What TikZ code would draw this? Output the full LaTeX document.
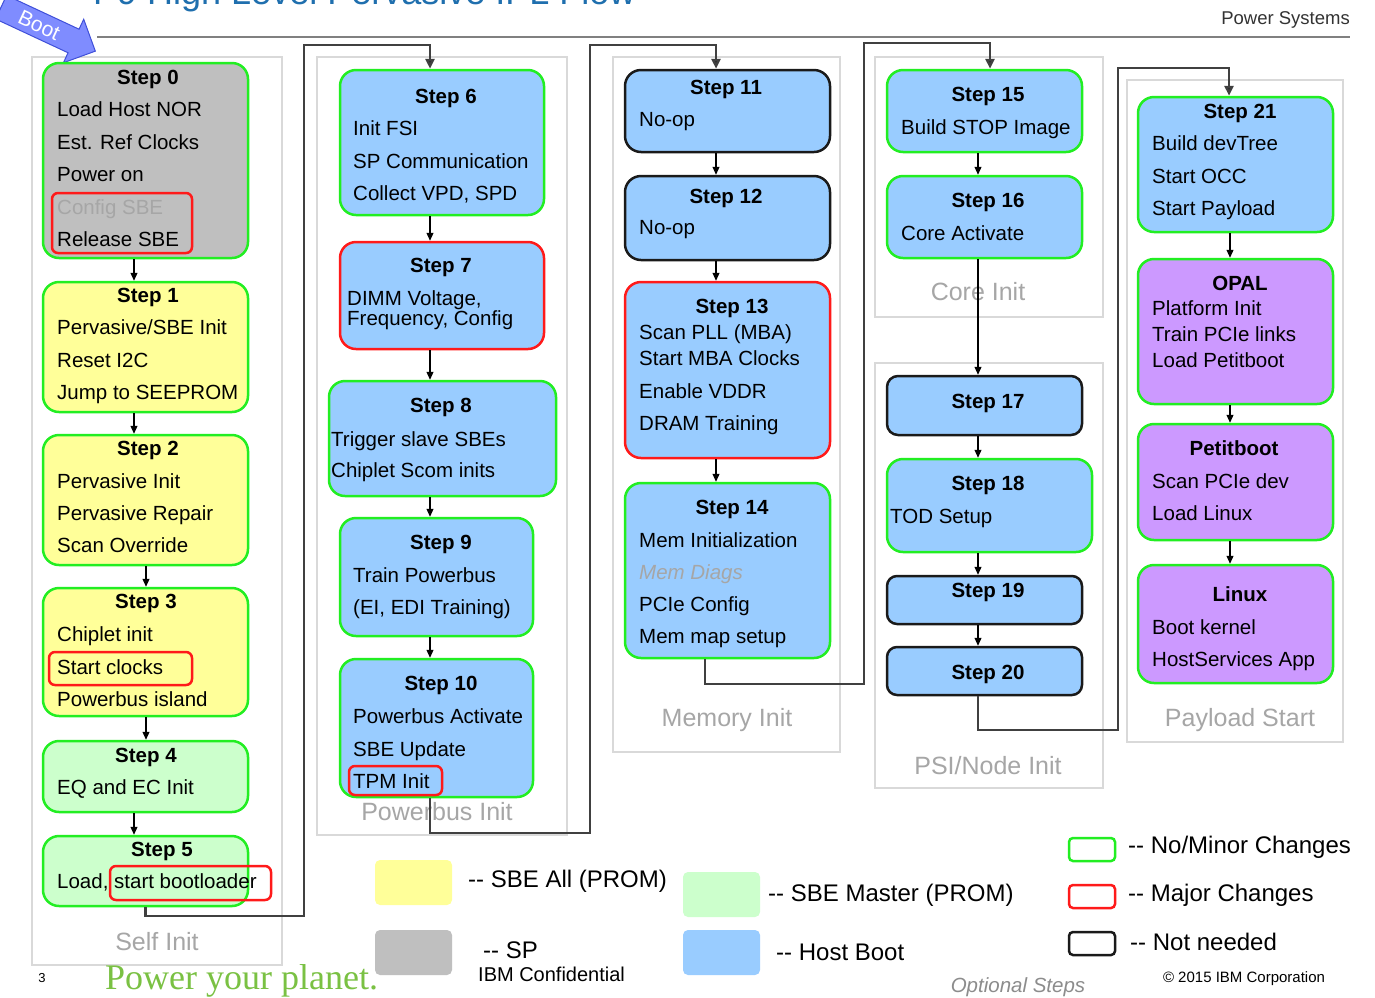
\documentclass[tikz,border=0pt]{standalone}
\usepackage{fontspec}
\setmainfont{Liberation Sans}
\newfontfamily\planetfont{Liberation Serif}
\usetikzlibrary{arrows.meta}
\usetikzlibrary{calc}

\definecolor{sbeall}{HTML}{FFFF99}
\definecolor{sbemaster}{HTML}{CCFFCC}
\definecolor{spgray}{HTML}{BFBFBF}
\definecolor{hostboot}{HTML}{99CCFF}
\definecolor{payload}{HTML}{CC99FF}
\definecolor{minor}{HTML}{22EE22}
\definecolor{major}{HTML}{FF1A1A}
\definecolor{notneeded}{HTML}{1A1A1A}
\definecolor{grpline}{HTML}{D9D9D9}
\definecolor{grptext}{HTML}{A6A6A6}
\definecolor{linkgray}{HTML}{404040}
\definecolor{rulegray}{HTML}{808080}
\definecolor{titleblue}{HTML}{1F6FAE}
\definecolor{planet}{HTML}{7AC143}
\definecolor{bootblue}{HTML}{7F8CFF}
\definecolor{bootedge}{HTML}{3F4FD9}
\definecolor{darktext}{HTML}{333333}
\definecolor{opttext}{HTML}{8C8C8C}

\tikzset{
  grp/.style={draw=grpline, line width=2pt, fill=white, inner sep=0pt},
  grplabel/.style={text=grptext, font=\fontsize{25}{29}\selectfont, anchor=base, inner sep=0pt},
  stepbox/.style={rounded corners=16pt, line width=2.5pt, inner sep=0pt},
  ttl/.style={font=\bfseries\fontsize{20.5}{24}\selectfont, anchor=base, inner sep=0pt},
  body/.style={font=\fontsize{20.5}{32}\selectfont, anchor=north west, align=left, inner sep=0pt},
  hilite/.style={draw=major, line width=2.5pt, rounded corners=6pt},
  flow/.style={-{Triangle[length=8pt,width=7pt]}, line width=1.1pt},
  link/.style={draw=linkgray, line width=2.5pt, -{Triangle[length=10pt,width=9pt,fill=black]}},
  swatch/.style={rounded corners=5pt, inner sep=0pt, minimum width=77pt, minimum height=45pt},
  legbox/.style={rounded corners=4pt, line width=2.5pt, minimum width=46pt, minimum height=23pt, inner sep=0pt},
  legtxt/.style={font=\fontsize{24}{28}\selectfont, anchor=west, inner sep=0pt},
}

\begin{document}
\begin{tikzpicture}[x=1pt, y=-1pt]
\useasboundingbox (0,0) rectangle (1375,997);
\fill[white] (0,0) rectangle (1375,997);

% groups
\node[grp, minimum width=250pt, minimum height=908pt] (gself) at (157,511) {};
\node[grp, minimum width=250pt, minimum height=778pt] (gpb) at (442,446) {};
\node[grp, minimum width=227pt, minimum height=695pt] (gmem) at (726.5,404.5) {};
\node[grp, minimum width=228pt, minimum height=260pt] (gcore) at (989,187) {};
\node[grp, minimum width=228pt, minimum height=425pt] (gpsi) at (989,575.5) {};
\node[grp, minimum width=216pt, minimum height=662pt] (gpay) at (1235,411) {};

\node[grplabel] (gselfl) at (157,950.5) {Self Init};
\node[grplabel] (gpbl) at (437,820.5) {Powerbus Init};
\node[grplabel] (gmeml) at (727,726.5) {Memory Init};
\node[grplabel] (gcorel) at (978,300.5) {Core Init};
\node[grplabel] (gpsil) at (988,774.5) {PSI/Node Init};
\node[grplabel] (gpayl) at (1240,726.5) {Payload Start};

% header
\node[anchor=base west, inner sep=0pt, font=\fontsize{36}{40}\selectfont, text=titleblue] (title) at (93,4) {P9 High Level Pervasive IPL Flow};
\node[anchor=base east, inner sep=0pt, font=\fontsize{18.5}{20}\selectfont, text=darktext] (psys) at (1350,24) {Power Systems};
\draw[rulegray, line width=1.5pt] (97,37) -- (1350,37);

\begin{scope}[shift={(50,30)}, rotate=-25]
\draw[fill=bootblue, draw=bootedge, line width=1pt] (-54,-13) -- (26,-13) -- (26,-24) -- (50,0) -- (26,24) -- (26,13) -- (-54,13) -- cycle;
\node[text=white, font=\fontsize{21}{23}\selectfont, transform shape] (boot) at (-12,0) {Boot};
\end{scope}

% column x positions
\coordinate (selfa) at (134,0);
\coordinate (selfb) at (146,0);
\coordinate (pbx) at (430,0);
\coordinate (memx) at (716,0);
\coordinate (mem14) at (705,0);
\coordinate (corex) at (978,0);
\coordinate (s15x) at (990,0);
\coordinate (payx) at (1230,0);
\coordinate (s21x) at (1229,0);

% step boxes
\node[stepbox, fill=spgray, draw=minor, minimum width=205pt, minimum height=195pt] (s0) at (145.5,160.5) {};
\node[stepbox, fill=sbeall, draw=minor, minimum width=205pt, minimum height=130pt] (s1) at (145.5,347) {};
\node[stepbox, fill=sbeall, draw=minor, minimum width=205pt, minimum height=130pt] (s2) at (145.5,500) {};
\node[stepbox, fill=sbeall, draw=minor, minimum width=205pt, minimum height=128pt] (s3) at (145.5,652) {};
\node[stepbox, fill=sbemaster, draw=minor, minimum width=205pt, minimum height=71pt] (s4) at (145.5,776.5) {};
\node[stepbox, fill=sbemaster, draw=minor, minimum width=205pt, minimum height=70pt] (s5) at (145.5,871) {};

\node[stepbox, fill=hostboot, draw=minor, minimum width=204pt, minimum height=145pt] (s6) at (442,142.5) {};
\node[stepbox, fill=hostboot, draw=major, minimum width=204pt, minimum height=107pt] (s7) at (442,295.5) {};
\node[stepbox, fill=hostboot, draw=minor, minimum width=227pt, minimum height=115pt] (s8) at (442.5,438.5) {};
\node[stepbox, fill=hostboot, draw=minor, minimum width=193pt, minimum height=118pt] (s9) at (436.5,577) {};
\node[stepbox, fill=hostboot, draw=minor, minimum width=193pt, minimum height=138pt] (s10) at (436.5,728) {};

\node[stepbox, fill=hostboot, draw=notneeded, minimum width=205pt, minimum height=82pt] (s11) at (727.5,111) {};
\node[stepbox, fill=hostboot, draw=notneeded, minimum width=205pt, minimum height=84pt] (s12) at (727.5,218) {};
\node[stepbox, fill=hostboot, draw=major, minimum width=205pt, minimum height=176pt] (s13) at (727.5,370) {};
\node[stepbox, fill=hostboot, draw=minor, minimum width=205pt, minimum height=175pt] (s14) at (727.5,570.5) {};

\node[stepbox, fill=hostboot, draw=minor, minimum width=195pt, minimum height=82pt] (s15) at (984.5,111) {};
\node[stepbox, fill=hostboot, draw=minor, minimum width=195pt, minimum height=82pt] (s16) at (984.5,217) {};
\node[stepbox, rounded corners=11pt, fill=hostboot, draw=notneeded, minimum width=195pt, minimum height=59pt] (s17) at (984.5,405.5) {};
\node[stepbox, fill=hostboot, draw=minor, minimum width=205pt, minimum height=93pt] (s18) at (989.5,505.5) {};
\node[stepbox, rounded corners=10pt, fill=hostboot, draw=notneeded, minimum width=195pt, minimum height=48pt] (s19) at (984.5,600) {};
\node[stepbox, rounded corners=10pt, fill=hostboot, draw=notneeded, minimum width=195pt, minimum height=48pt] (s20) at (984.5,671) {};

\node[stepbox, fill=hostboot, draw=minor, minimum width=195pt, minimum height=135pt] (s21) at (1235.5,164.5) {};
\node[stepbox, fill=payload, draw=minor, minimum width=195pt, minimum height=145pt] (opal) at (1235.5,331.5) {};
\node[stepbox, fill=payload, draw=minor, minimum width=195pt, minimum height=116pt] (petit) at (1235.5,482) {};
\node[stepbox, fill=payload, draw=minor, minimum width=195pt, minimum height=118pt] (linux) at (1235.5,624) {};

% step texts
\node[ttl] (s0t) at (148,84) {Step 0};
\node[body, font=\fontsize{20.5}{32.5}\selectfont] (s0b) at (57,101.5) {Load Host NOR\\Est. Ref Clocks\\Power on\\{\color{grptext}Config SBE}\\Release SBE};
\node[ttl] (s1t) at (148,302) {Step 1};
\node[body, font=\fontsize{20.5}{32.5}\selectfont] (s1b) at (57,319.5) {Pervasive/SBE Init\\Reset I2C\\Jump to SEEPROM};
\node[ttl] (s2t) at (148,455) {Step 2};
\node[body] (s2b) at (57,473.5) {Pervasive Init\\Pervasive Repair\\Scan Override};
\node[ttl] (s3t) at (146,608) {Step 3};
\node[body, font=\fontsize{20.5}{32.5}\selectfont] (s3b) at (57,626.5) {Chiplet init\\Start clocks\\Powerbus island};
\node[ttl] (s4t) at (146,762) {Step 4};
\node[body] (s4b) at (57,779.5) {EQ and EC Init};
\node[ttl] (s5t) at (162,856) {Step 5};
\node[body] (s5b) at (57,873.5) {Load, start bootloader};

\node[ttl] (s6t) at (446,103) {Step 6};
\node[body, font=\fontsize{20.5}{32.5}\selectfont] (s6b) at (353,120.5) {Init FSI\\SP Communication\\Collect VPD, SPD};
\node[ttl] (s7t) at (441,272) {Step 7};
\node[body, font=\fontsize{20.5}{19}\selectfont] (s7b) at (347,290.5) {DIMM Voltage,\\Frequency, Config};
\node[ttl] (s8t) at (441,412) {Step 8};
\node[body, font=\fontsize{20.5}{31}\selectfont] (s8b) at (331,431.5) {Trigger slave SBEs\\Chiplet Scom inits};
\node[ttl] (s9t) at (441,549) {Step 9};
\node[body] (s9b) at (353,567.5) {Train Powerbus\\(EI, EDI Training)};
\node[ttl] (s10t) at (441,690) {Step 10};
\node[body, font=\fontsize{20.5}{32.5}\selectfont] (s10b) at (353,708.5) {Powerbus Activate\\SBE Update\\TPM Init};

\node[ttl] (s11t) at (726,94) {Step 11};
\node[body] (s11b) at (639,112.5) {No-op};
\node[ttl] (s12t) at (726,203) {Step 12};
\node[body] (s12b) at (639,220.5) {No-op};
\node[ttl] (s13t) at (732,313) {Step 13};
\node[body, font=\fontsize{20.5}{26}\selectfont] (s13b) at (639,324.5) {Scan PLL (MBA)\\Start MBA Clocks\\[7pt]Enable VDDR\\[6pt]DRAM Training};
\node[ttl] (s14t) at (732,514) {Step 14};
\node[body] (s14b) at (639,532.5) {Mem Initialization\\{\color{grptext}\itshape Mem Diags}\\PCIe Config\\Mem map setup};

\node[ttl] (s15t) at (988,101) {Step 15};
\node[body] (s15b) at (901,119.5) {Build STOP Image};
\node[ttl] (s16t) at (988,207) {Step 16};
\node[body] (s16b) at (901,225.5) {Core Activate};
\node[ttl] (s17t) at (988,408) {Step 17};
\node[ttl] (s18t) at (988,490) {Step 18};
\node[body] (s18b) at (890,508.5) {TOD Setup};
\node[ttl] (s19t) at (988,597) {Step 19};
\node[ttl] (s20t) at (988,679) {Step 20};

\node[ttl] (s21t) at (1240,118) {Step 21};
\node[body, font=\fontsize{20.5}{32.5}\selectfont] (s21b) at (1152,135.5) {Build devTree\\Start OCC\\Start Payload};
\node[ttl] (opalt) at (1240,290) {OPAL};
\node[body, font=\fontsize{20.5}{26}\selectfont] (opalb) at (1152,300.5) {Platform Init\\Train PCIe links\\Load Petitboot};
\node[ttl] (petitt) at (1234,455) {Petitboot};
\node[body] (petitb) at (1152,473.5) {Scan PCIe dev\\Load Linux};
\node[ttl] (linuxt) at (1240,601) {Linux};
\node[body] (linuxb) at (1152,619.5) {Boot kernel\\HostServices App};

% major changes inside steps
\draw[hilite] (52,193) rectangle (192,253);
\draw[hilite] (49,652) rectangle (192,685);
\draw[hilite] (110,866) rectangle (271,900);
\draw[hilite] (349,766) rectangle (442,795);

% flow inside columns
\draw[flow] (s0.south -| selfa) -- (s1.north -| selfa);
\draw[flow] (s1.south -| selfa) -- (s2.north -| selfa);
\draw[flow] (s2.south -| selfb) -- (s3.north -| selfb);
\draw[flow] (s3.south -| selfb) -- (s4.north -| selfb);
\draw[flow] (s4.south -| selfa) -- (s5.north -| selfa);
\draw[flow] (s6.south -| pbx) -- (s7.north -| pbx);
\draw[flow] (s7.south -| pbx) -- (s8.north -| pbx);
\draw[flow] (s8.south -| pbx) -- (s9.north -| pbx);
\draw[flow] (s9.south -| pbx) -- (s10.north -| pbx);
\draw[flow] (s11.south -| memx) -- (s12.north -| memx);
\draw[flow] (s12.south -| memx) -- (s13.north -| memx);
\draw[flow] (s13.south -| memx) -- (s14.north -| memx);
\draw[flow] (s15.south -| corex) -- (s16.north -| corex);
\draw[flow] (s16.south -| corex) -- (s17.north -| corex);
\draw[flow] (s17.south -| corex) -- (s18.north -| corex);
\draw[flow] (s18.south -| corex) -- (s19.north -| corex);
\draw[flow] (s19.south -| corex) -- (s20.north -| corex);
\draw[flow] (s21.south -| payx) -- (opal.north -| payx);
\draw[flow] (opal.south -| payx) -- (petit.north -| payx);
\draw[flow] (petit.south -| payx) -- (linux.north -| payx);

% links between columns
\coordinate (r1a) at (304,916);
\coordinate (r1b) at (304,45);
\coordinate (r2a) at (590,833);
\coordinate (r2b) at (590,45);
\coordinate (r3a) at (864,684);
\coordinate (r3b) at (864,43);
\coordinate (r4a) at (1118,730);
\coordinate (r4b) at (1118,68);
\draw[link] (s5.south) |- (r1a) -- (r1b) -| (s6.north -| pbx);
\draw[link] (s10.south -| pbx) |- (r2a) -- (r2b) -| (s11.north -| memx);
\draw[link] (s14.south -| mem14) |- (r3a) -- (r3b) -| (s15.north -| s15x);
\draw[link] (s20.south -| corex) |- (r4a) -- (r4b) -| (s21.north -| s21x);

% legend
\node[swatch, fill=sbeall] (lgall) at (413.5,882.5) {};
\node[legtxt] (lgallt) at (468,881) {-{}- SBE All (PROM)};
\node[swatch, fill=spgray] (lgsp) at (413.5,952.5) {};
\node[legtxt] (lgspt) at (483,950) {-{}- SP};
\node[swatch, fill=sbemaster] (lgmst) at (721.5,894.5) {};
\node[legtxt] (lgmstt) at (768,895) {-{}- SBE Master (PROM)};
\node[swatch, fill=hostboot] (lghb) at (721.5,952.5) {};
\node[legtxt] (lghbt) at (776,952) {-{}- Host Boot};
\node[legbox, draw=minor] (lgmin) at (1092,849.5) {};
\node[legtxt] (lgmint) at (1128,847) {-{}- No/Minor Changes};
\node[legbox, draw=major] (lgmaj) at (1092,896.5) {};
\node[legtxt] (lgmajt) at (1128,895) {-{}- Major Changes};
\node[legbox, draw=notneeded] (lgnn) at (1092,943.5) {};
\node[legtxt] (lgnnt) at (1130,942) {-{}- Not needed};

% footer
\node[anchor=west, inner sep=0pt, font=\fontsize{20}{22}\selectfont] (conf) at (478,974) {IBM Confidential};
\node[inner sep=0pt, font=\fontsize{13}{15}\selectfont] (pgno) at (42,978) {3};
\node[anchor=base west, inner sep=0pt, font=\planetfont\fontsize{36}{40}\selectfont, text=planet] (planet) at (105,989) {Power your planet.};
\node[inner sep=0pt, font=\fontsize{15}{17}\selectfont] (copy) at (1244,979) {\textcopyright{} 2015 IBM Corporation};
\node[inner sep=0pt, font=\itshape\fontsize{20.5}{23}\selectfont, text=opttext] (opt) at (1018,987) {Optional Steps};

\end{tikzpicture}
\end{document}
